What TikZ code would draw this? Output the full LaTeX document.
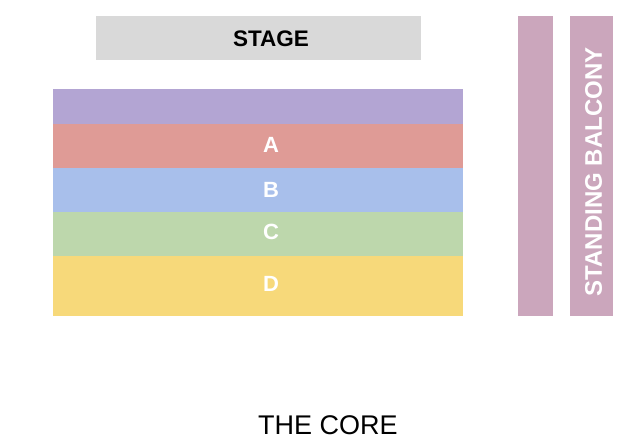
\documentclass[tikz,border=0pt]{standalone}
\usepackage{fontspec}
\setmainfont{Liberation Sans}
\definecolor{stagec}{HTML}{D9D9D9}
\definecolor{purp}{HTML}{B3A5D3}
\definecolor{secA}{HTML}{DF9B96}
\definecolor{secB}{HTML}{A8BFEB}
\definecolor{secC}{HTML}{BDD7AC}
\definecolor{secD}{HTML}{F7D97A}
\definecolor{balc}{HTML}{CBA6BC}
\begin{document}
\begin{tikzpicture}[x=1pt,y=-1pt,
  lab/.style={text=white, font=\bfseries\fontsize{22}{26}\selectfont}]
\useasboundingbox (0,0) rectangle (632,440);
\fill[stagec] (96,16) rectangle (421,60);
\node[font=\bfseries\fontsize{22.5}{26}\selectfont] (stage) at (271,39) {STAGE};
\fill[purp] (53,89) rectangle (463,124);
\fill[secA] (53,124) rectangle (463,168);
\fill[secB] (53,168) rectangle (463,212);
\fill[secC] (53,212) rectangle (463,256);
\fill[secD] (53,256) rectangle (463,316);
\node[lab] (a) at (271,145) {A};
\node[lab] (b) at (271,190) {B};
\node[lab] (c) at (271,232) {C};
\node[lab] (d) at (271,284) {D};
\fill[balc] (518,16) rectangle (553,316);
\fill[balc] (570,16) rectangle (613,316);
\node[text=white, font=\bfseries\fontsize{24}{28}\selectfont, rotate=90] (balcony) at (593.5,172) {STANDING BALCONY};
\node[font=\fontsize{27}{32}\selectfont] (core) at (328,425) {THE CORE};
\end{tikzpicture}
\end{document}
